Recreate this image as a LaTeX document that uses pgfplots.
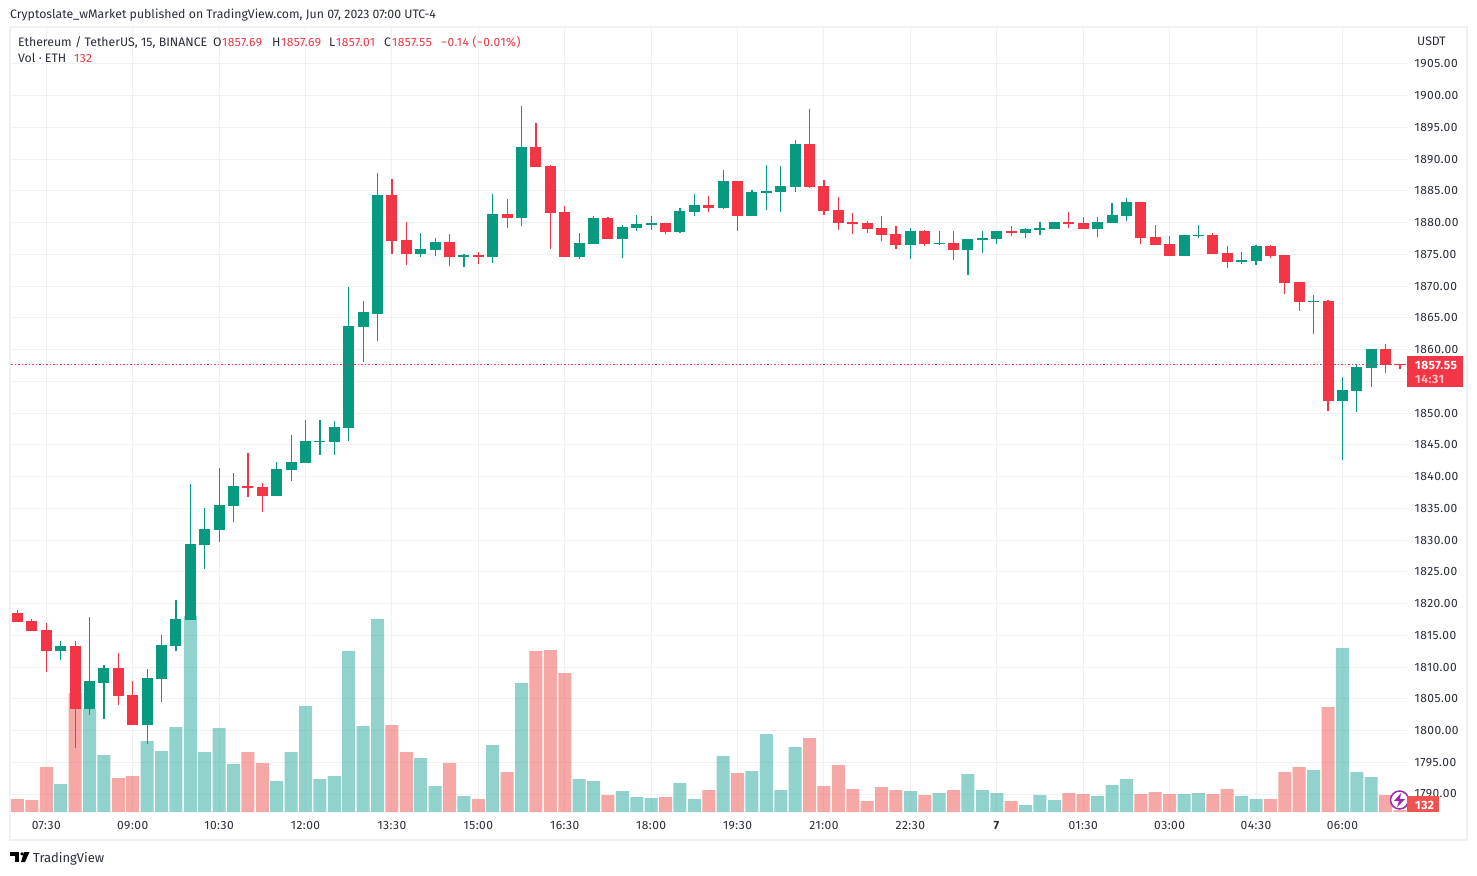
\documentclass[border=0pt]{standalone}
\usepackage{fontspec}
\setmainfont{Fira Sans}
\newfontfamily\numf[LetterSpace=4]{Fira Sans}
\usepackage{pgfplots}
\usepackage{pgfplotstable}
\pgfplotsset{compat=1.18}

\definecolor{tvgreen}{HTML}{089981}
\definecolor{tvred}{HTML}{F23645}
\definecolor{volgreen}{HTML}{26A69A}
\definecolor{volred}{HTML}{EF5350}
\definecolor{gridc}{HTML}{F1F1F4}
\definecolor{framec}{HTML}{EFEFF5}
\definecolor{txt}{HTML}{2A2E39}
\definecolor{bolt}{HTML}{9C27B0}

% x = candle number (15 min, 0 = 07:00), open high low close volume
\pgfplotstableread{
x o h l c v
3 1812.52 1814.10 1811.10 1813.31 1848
5 1803.39 1817.88 1802.44 1807.80 6798
6 1807.48 1810.32 1801.80 1809.85 3762
9 1800.87 1809.69 1797.88 1808.27 4686
10 1808.11 1815.04 1804.49 1813.47 4026
11 1813.31 1820.56 1812.52 1817.56 5610
12 1817.40 1838.83 1817.40 1829.38 12936
13 1829.22 1835.05 1825.44 1831.74 3960
14 1831.58 1841.35 1829.69 1835.52 5544
15 1835.37 1840.56 1832.85 1838.51 3168
18 1836.94 1842.29 1836.94 1841.19 2046
19 1841.03 1846.55 1839.30 1842.29 3960
20 1842.14 1848.91 1842.14 1845.60 6996
21 1845.44 1848.91 1843.40 1845.60 2178
22 1845.44 1848.75 1843.40 1847.81 2376
23 1847.65 1869.85 1845.60 1863.71 10626
24 1863.55 1867.65 1858.04 1865.92 5676
25 1865.60 1887.80 1861.35 1884.34 12738
28 1875.05 1878.36 1874.58 1875.84 3564
29 1875.68 1877.57 1874.73 1876.94 1716
31 1874.58 1875.05 1873.00 1874.89 1056
33 1874.58 1884.50 1873.63 1881.35 4422
35 1880.72 1898.36 1879.46 1891.90 8514
39 1874.58 1878.36 1874.26 1876.78 2178
40 1876.62 1881.03 1876.62 1880.72 2046
42 1877.41 1879.61 1874.42 1879.30 1386
43 1879.14 1881.19 1878.67 1879.77 990
44 1879.61 1881.03 1878.83 1879.93 924
46 1878.51 1882.29 1878.36 1881.82 1914
47 1881.66 1884.50 1881.03 1882.76 858
49 1882.29 1888.28 1882.13 1886.54 3696
51 1881.03 1885.13 1881.03 1884.81 2706
52 1884.65 1889.06 1881.98 1884.97 5148
53 1884.81 1888.91 1881.66 1885.76 1452
54 1885.60 1893.00 1884.81 1892.37 4290
62 1876.47 1879.14 1874.26 1878.67 1386
64 1876.62 1878.67 1876.47 1876.78 1254
66 1875.68 1877.41 1871.74 1877.41 2508
67 1877.25 1878.67 1875.21 1877.57 1452
68 1877.41 1878.67 1876.62 1878.67 1254
70 1878.36 1879.15 1877.57 1878.99 462
71 1878.83 1880.09 1878.04 1879.15 1122
72 1878.99 1880.09 1878.99 1880.09 792
75 1878.99 1880.88 1877.73 1880.09 1056
76 1879.93 1883.08 1879.93 1881.19 1782
77 1881.04 1883.87 1880.25 1883.24 2178
81 1874.74 1878.04 1874.74 1878.04 1188
82 1877.89 1879.62 1877.57 1878.04 1254
85 1873.79 1875.37 1873.48 1874.11 1056
86 1873.95 1876.47 1873.32 1876.31 858
90 1867.49 1868.59 1862.45 1867.64 2772
92 1851.90 1855.68 1842.60 1853.63 10824
93 1853.47 1857.56 1850.16 1857.25 2640
94 1857.09 1860.08 1854.10 1860.08 2310
}\upcandles

\pgfplotstableread{
x o h l c v
0 1818.51 1818.98 1817.09 1817.09 858
1 1817.25 1817.56 1815.67 1815.67 792
2 1815.83 1816.93 1809.20 1812.52 2970
4 1813.31 1814.10 1797.25 1803.39 7854
7 1809.85 1812.20 1804.00 1805.44 2244
8 1805.60 1807.80 1800.87 1800.87 2376
16 1838.51 1843.71 1836.78 1838.20 3960
17 1838.36 1838.99 1834.42 1836.94 3234
26 1884.34 1886.86 1875.05 1877.10 5742
27 1877.25 1880.09 1873.32 1875.05 3960
30 1876.94 1878.20 1873.16 1874.58 3234
32 1874.89 1875.36 1873.47 1874.58 858
34 1881.35 1883.71 1879.14 1880.72 2640
36 1891.90 1895.68 1888.75 1888.75 10626
37 1888.91 1889.06 1875.84 1881.50 10692
38 1881.66 1882.61 1874.58 1874.58 9174
41 1880.72 1880.87 1877.41 1877.41 1122
45 1879.93 1879.93 1878.20 1878.51 990
48 1882.76 1884.18 1881.66 1882.29 1452
50 1886.54 1886.54 1878.67 1881.03 2574
55 1892.37 1897.88 1885.44 1885.60 4884
56 1885.76 1886.70 1881.19 1881.82 1716
57 1881.98 1884.02 1878.83 1879.93 3102
58 1880.09 1881.50 1878.20 1879.77 1518
59 1879.93 1880.24 1878.36 1878.98 726
60 1879.14 1881.03 1877.10 1878.04 1650
61 1878.20 1879.46 1875.84 1876.47 1452
63 1878.67 1878.83 1876.31 1876.62 1122
65 1876.78 1878.67 1874.10 1875.68 1452
69 1878.67 1879.46 1877.89 1878.36 726
73 1880.09 1881.67 1879.15 1879.78 1254
74 1879.93 1880.88 1878.99 1878.99 1188
78 1883.24 1883.24 1876.63 1877.57 1188
79 1877.73 1879.62 1876.47 1876.47 1320
80 1876.63 1877.89 1874.74 1874.74 1188
83 1878.04 1878.36 1875.05 1875.05 1188
84 1875.21 1876.31 1872.85 1873.79 1518
87 1876.31 1876.47 1874.42 1874.74 858
88 1874.89 1874.89 1868.75 1870.48 2640
89 1870.64 1870.64 1866.08 1867.49 2970
91 1867.64 1867.80 1850.32 1851.90 6930
95 1860.08 1860.87 1856.30 1857.56 1122
96 1857.69 1857.69 1857.01 1857.55 132
}\downcandles

\pgfplotsset{
  pane/.style={
    at={(11pt,-812pt)}, anchor=south west,
    scale only axis, width=1396pt, height=785pt,
    xmin=-0.451, xmax=96.49,
  },
  wicks/.style={draw=none, mark=none,
    error bars/.cd, y dir=plus, y explicit, error mark=none,
    error bar style={line width=1.2pt, draw=#1}},
  bodies/.style={draw=none, mark=none,
    error bars/.cd, y dir=plus, y explicit, error mark=none,
    error bar style={line width=11pt, draw=#1}},
}

\newcommand{\fs}{\fontsize{12.3}{14}\selectfont}
\newcommand{\ns}{\fontsize{12}{14}\selectfont\numf}

\begin{document}
\begin{tikzpicture}
\begin{scope}[x=1pt,y=-1pt]
  \path[use as bounding box, fill=white] (0,0) rectangle (1477,875);
  \draw[framec, line width=2pt] (10,27) rectangle (1467,840);
\end{scope}

% grid and tick labels, 1855 sits behind the price tag so it has no label
\begin{axis}[
  pane,
  ymin=1787.17, ymax=1910.80,
  axis line style={draw=none},
  major tick length=0pt,
  grid=major,
  grid style={color=gridc, line width=1pt},
  xtick={2,8,14,20,26,32,38,44,50,56,62,68,74,80,86,92},
  xticklabels={07:30,09:00,10:30,12:00,13:30,15:00,16:30,18:00,19:30,21:00,22:30,\textbf{7},01:30,03:00,04:30,06:00},
  ytick={1790,1795,1800,1805,1810,1815,1820,1825,1830,1835,1840,1845,1850,1860,1865,1870,1875,1880,1885,1890,1895,1900,1905},
  extra y ticks={1855},
  extra y tick labels={},
  extra y tick style={grid=major},
  yticklabel pos=right,
  xticklabel style={font=\ns, text=txt, anchor=base, yshift=-17pt},
  yticklabel style={font=\ns, text=txt, anchor=west, xshift=4pt,
    /pgf/number format/.cd, fixed, fixed zerofill, precision=2, 1000 sep={}, assume math mode=true},
]
\end{axis}

% volume
\begin{axis}[
  pane, hide axis,
  ymin=0, ymax=51810,
  ybar, bar width=13pt,
]
\addplot[bar shift=0pt, draw=none, fill=volgreen, fill opacity=0.5] table[x=x, y=v] {\upcandles};
\addplot[bar shift=0pt, draw=none, fill=volred, fill opacity=0.5] table[x=x, y=v] {\downcandles};
\end{axis}

% candles
\begin{axis}[
  pane, hide axis,
  ymin=1787.17, ymax=1910.80,
]
\addplot[wicks=tvgreen] table[x=x, y=l, y error plus expr=\thisrow{h}-\thisrow{l}] {\upcandles};
\addplot[wicks=tvred] table[x=x, y=l, y error plus expr=\thisrow{h}-\thisrow{l}] {\downcandles};
\addplot[bodies=tvgreen] table[x=x, y=o, y error plus expr=\thisrow{c}-\thisrow{o}] {\upcandles};
\addplot[bodies=tvred] table[x=x, y=c, y error plus expr=\thisrow{o}-\thisrow{c}] {\downcandles};
% last price, dotted across the pane
\draw[tvred, line width=1.2pt, dash pattern=on 1.5pt off 2pt] (axis cs:-0.451,1857.7) -- (axis cs:96.49,1857.7);
\end{axis}

\begin{scope}[x=1pt,y=-1pt, every node/.style={inner sep=0pt, anchor=base west, font=\fs, text=txt}]
  \node at (10,19) {Cryptoslate\_wMarket published on TradingView.com, Jun 07, 2023 07:00 UTC-4};
  \node at (18,47) {Ethereum / TetherUS, 15, BINANCE};
  \node at (213,47) {O};
  \node[text=tvred, font=\ns] at (222,47) {1857.69};
  \node at (272,47) {H};
  \node[text=tvred, font=\ns] at (281,47) {1857.69};
  \node at (329,47) {L};
  \node[text=tvred, font=\ns] at (336,47) {1857.01};
  \node at (384,47) {C};
  \node[text=tvred, font=\ns] at (392,47) {1857.55};
  \node[text=tvred, font=\ns] at (441,47) {−0.14 (−0.01\%)};
  \node at (18,63) {Vol · ETH};
  \node[text=tvred, font=\ns] at (74,63) {132};
  \node at (1417,46) {USDT};

  % last price tag
  \fill[tvred] (1407,356) rectangle (1463,387);
  \node[text=white, font=\ns\bfseries] at (1415,369) {1857.55};
  \node[text=white, text opacity=0.7, font=\ns\bfseries] at (1415,383.5) {14:31};

  % bolt badge and volume tag
  \filldraw[draw=bolt, fill=white, line width=1.5pt] (1399.5,800) circle (9);
  \fill[bolt] (1401,793) -- (1394,801) -- (1399,801) -- (1397,807) -- (1405,799) -- (1400,799) -- cycle;
  \fill[volred] (1407,796) rectangle (1439,812);
  \node[text=white, font=\ns\bfseries] at (1415,809) {132};

  % logo
  \fill[black] (10,852) rectangle (19,855.5);
  \fill[black] (14.5,852) rectangle (19,862);
  \fill[black] (22,853.8) circle (1.8);
  \fill[black] (24,852) -- (29.5,852) -- (25,862) -- (21,862) -- cycle;
  \node[text=txt, font=\fontsize{13}{15}\selectfont] at (33,862) {TradingView};
\end{scope}
\end{tikzpicture}
\end{document}
